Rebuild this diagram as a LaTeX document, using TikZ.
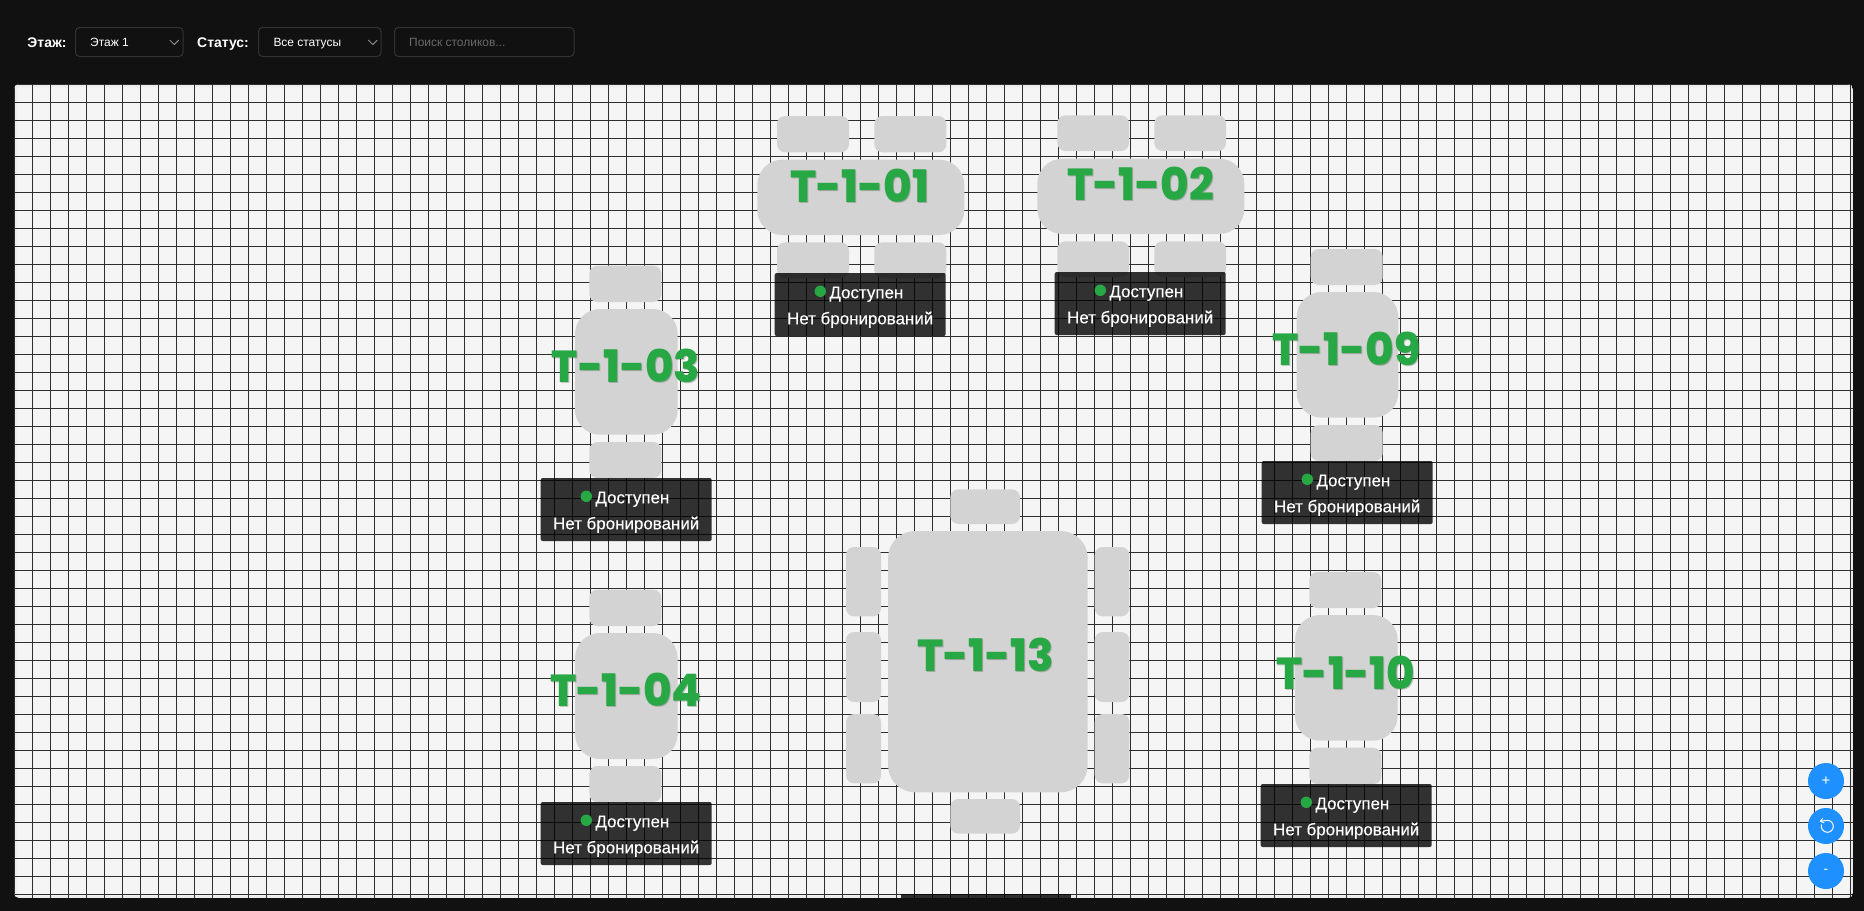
\documentclass[tikz,border=0pt]{standalone}
\usepackage{fontspec}
\setmainfont{Liberation Sans}
\newfontfamily\tablefont[BoldFont={Poppins ExtraBold},FakeStretch=0.97]{Poppins}
\newfontfamily\infofont[FakeBold=0.25]{Liberation Sans}
\definecolor{pagebg}{HTML}{111111}
\definecolor{panelbg}{HTML}{F5F5F5}
\definecolor{gridline}{HTML}{2E2E2E}
\definecolor{furn}{HTML}{D3D3D3}
\definecolor{okgreen}{HTML}{28A745}
\definecolor{btnblue}{HTML}{1E90FF}
\definecolor{ctlborder}{HTML}{333333}
\definecolor{hint}{HTML}{6A6A6A}
\definecolor{chev}{HTML}{8A8A8A}
\tikzset{
  furniture/.style={fill=furn,draw=none},
  chair/.style={furniture,rounded corners=8bp},
  gridrule/.style={draw=gridline,line width=1bp},
  infobg/.style={fill=black,fill opacity=0.8,draw=none,rounded corners=2bp},
  control/.style={draw=ctlborder,line width=1bp,fill=pagebg,rounded corners=4bp},
  uilabel/.style={inner sep=0pt,anchor=base west,text=white,font=\fontsize{14}{14}\selectfont\bfseries},
  ctltext/.style={inner sep=0pt,anchor=base west,text=white,font=\fontsize{12}{12}\selectfont},
  chevron/.style={draw=chev,line width=1bp,line cap=round,line join=round},
  tabletext/.style={inner sep=0pt,anchor=base,font=\fontsize{45}{45}\selectfont\tablefont\bfseries},
  infotext/.style={inner sep=0pt,text=white,font=\fontsize{17}{17}\selectfont\infofont},
  fab/.style={circle,fill=btnblue,draw=none,minimum size=36bp,inner sep=0pt,text=white},
  iconline/.style={draw=white,line width=1bp,line cap=round,line join=round},
}
\newcommand{\chairbox}[4]{\path[chair] (#1,#2) rectangle (#3,#4);}
\newcommand{\tablebox}[5]{\path[furniture,rounded corners=#5bp] (#1,#2) rectangle (#3,#4);}
\newcommand{\tablelabel}[4]{%
  \node[tabletext,text=black,text opacity=0.2] at (#2+1,#3+1) {#4};
  \node[tabletext,text=okgreen] (#1) at (#2,#3) {#4};}
\newcommand{\infobox}[3]{%
  \path[infobg] (#2,#3) rectangle ++(171,63);
  \fill[okgreen] (#2+45.6,#3+18.3) circle (5.7);
  \node[infotext,anchor=base west] (#1s) at (#2+54.5,#3+25.3) {Доступен};
  \node[infotext,anchor=base] (#1b) at (#2+85.5,#3+51.3) {Нет бронирований};}
\begin{document}
\begin{tikzpicture}[x=1bp,y=-1bp]
\useasboundingbox (0,0) rectangle (1864,911);
% page
\fill[pagebg] (0,0) rectangle (1864,911);
\fill[black!70!white] (0,911) rectangle (7,904);
\fill[pagebg,rounded corners=8bp] (0,0) rectangle (1864,930);
% panel
\begin{scope}
  \clip[rounded corners=5bp] (14,84) rectangle (1853,898);
  \fill[panelbg] (14,84) rectangle (1853,898);
  \foreach \k in {1,...,4}{
    \draw[black,opacity=0.012,line width={2*\k bp},rounded corners=5bp] (14,84) rectangle (1853,898);
  }
  \foreach \k in {0,...,102}{ \draw[gridrule] ({14.5+18*\k},84) -- ({14.5+18*\k},898); }
  \foreach \k in {0,...,45}{ \draw[gridrule] (14,{84.5+18*\k}) -- (1853,{84.5+18*\k}); }
  \path[infobg,rounded corners=0pt] (901,894.3) rectangle (1071.3,899);
\end{scope}
% toolbar
\node[uilabel] (floorlabel) at (27.3,47) {Этаж:};
\path[control] (75.5,27.5) rectangle (183,56.5);
\node[ctltext] (floorval) at (90,46) {Этаж 1};
\draw[chevron] (170,40.3) -- (174.3,44.5) -- (178.6,40.3);
\node[uilabel] (statuslabel) at (197,47) {Статус:};
\path[control] (258.5,27.5) rectangle (381,56.5);
\node[ctltext] (statusval) at (273.3,46) {Все статусы};
\draw[chevron] (368.5,40.3) -- (372.8,44.5) -- (377.1,40.3);
\path[control] (394.5,27.5) rectangle (574,56.5);
\node[ctltext,text=hint] (search) at (409,46) {Поиск столиков...};
% T-1-01
\chairbox{777}{116}{849}{152.3}\chairbox{874.3}{116}{946.3}{152.3}
\tablebox{757.3}{159.7}{964.3}{235}{25}
\chairbox{777}{242.3}{849}{278}\chairbox{874.3}{242.3}{946.3}{278}
\tablelabel{t01}{859.7}{202.3}{T-1-01}
\infobox{i01}{774.7}{273}
% T-1-02
\chairbox{1057.3}{115.3}{1129}{151}\chairbox{1154.3}{115.3}{1226}{151}
\tablebox{1037.3}{158.7}{1244.3}{234}{25}
\chairbox{1057.3}{241.3}{1129}{277}\chairbox{1154.3}{241.3}{1226}{277}
\tablelabel{t02}{1140.5}{200.7}{T-1-02}
\infobox{i02}{1054.7}{272}
% T-1-03
\chairbox{589.3}{265.7}{661.3}{302}
\tablebox{575}{309}{677.7}{434.7}{25}
\chairbox{589.3}{442}{661.3}{478}
\tablelabel{t03}{626}{382.3}{T-1-03}
\infobox{i03}{540.7}{478}
% T-1-04
\chairbox{589.3}{589.7}{661.3}{626}
\tablebox{575}{633}{677.7}{759}{25}
\chairbox{589.3}{766}{661.3}{802}
\tablelabel{t04}{626}{706.7}{T-1-04}
\infobox{i04}{540.7}{802}
% T-1-09
\chairbox{1310.7}{249}{1382.7}{285}
\tablebox{1296.7}{292}{1398.3}{417.7}{25}
\chairbox{1310.7}{425}{1382.7}{461}
\tablelabel{t09}{1346.7}{365}{T-1-09}
\infobox{i09}{1261.7}{461}
% T-1-10
\chairbox{1309.3}{572}{1381.3}{608}
\tablebox{1295}{615}{1397.7}{740.7}{25}
\chairbox{1309.3}{747.7}{1381.3}{784}
\tablelabel{t10}{1346}{689}{T-1-10}
\infobox{i10}{1260.7}{784}
% T-1-13
\chairbox{950.3}{489.3}{1020}{524}
\chairbox{950.3}{799}{1020}{833.7}
\chairbox{846}{547}{881}{616.3}\chairbox{846}{632}{881}{702}\chairbox{846}{714}{881}{783.3}
\chairbox{1094.7}{547}{1129.3}{616.3}\chairbox{1094.7}{632}{1129.3}{702}\chairbox{1094.7}{714}{1129.3}{783.3}
\tablebox{888}{531}{1087.7}{792.3}{27}
\tablelabel{t13}{985.6}{671}{T-1-13}
% zoom buttons
\node[fab,font=\fontsize{15}{15}\selectfont] (zoomin) at (1826,781) {+};
\node[fab] (zoomreset) at (1826,826) {};
\draw[iconline] (1827.3,820.3) arc[start angle=-90,end angle=195,radius=6];
\draw[iconline] (1822.8,818.3) -- (1820.3,821.3) -- (1824,822.6);
\draw[iconline] (1820.3,821.3) -- (1827.3,820.3);
\node[fab,font=\fontsize{14}{14}\selectfont] (zoomout) at (1826,871) {-};
\end{tikzpicture}
\end{document}
